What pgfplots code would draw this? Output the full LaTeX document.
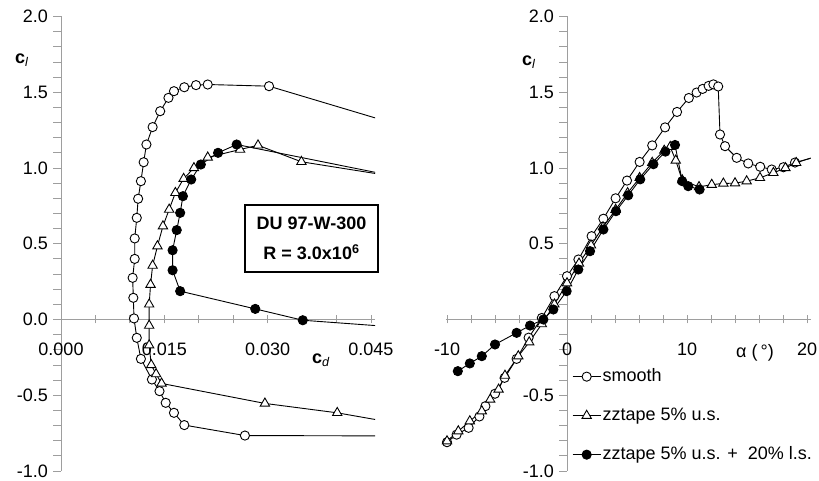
\documentclass[border=0pt]{standalone}
\usepackage{fontspec}
\setmainfont{Liberation Sans}
\usepackage{pgfplots}
\pgfplotsset{compat=1.18}

\definecolor{axgray}{gray}{0.62}

% ---------- drag polar (cd, cl) ----------
\pgfplotstableread{
cd      cl
0.0600 -0.770
0.0267 -0.766
0.0179 -0.697
0.0164 -0.616
0.0152 -0.550
0.0143 -0.473
0.0132 -0.396
0.0116 -0.260
0.0110 -0.121
0.0106  0.007
0.0105  0.143
0.0104  0.275
0.0107  0.400
0.0107  0.535
0.0110  0.671
0.0112  0.797
0.0116  0.913
0.0120  1.038
0.0124  1.155
0.0133  1.270
0.0144  1.375
0.0156  1.463
0.0164  1.507
0.0179  1.533
0.0196  1.547
0.0213  1.551
0.0302  1.540
0.0600  1.135
}\polarsmooth

\pgfplotstableread{
cd      cl
0.0600 -0.775
0.0401 -0.616
0.0296 -0.554
0.0146 -0.422
0.0138 -0.360
0.0131 -0.300
0.0128 -0.170
0.0128 -0.040
0.0128  0.100
0.0130  0.230
0.0133  0.356
0.0140  0.484
0.0148  0.616
0.0157  0.726
0.0166  0.836
0.0178  0.929
0.0193  1.000
0.0213  1.070
0.0260  1.122
0.0286  1.150
0.0349  1.041
0.0600  0.860
}\polarupper

\pgfplotstableread{
cd      cl
0.0600 -0.088
0.0351 -0.005
0.0282  0.070
0.0173  0.187
0.0162  0.325
0.0162  0.457
0.0168  0.590
0.0173  0.704
0.0177  0.814
0.0189  0.924
0.0203  1.023
0.0228  1.100
0.0255  1.155
0.0600  0.840
}\polarboth

% ---------- lift curve (alpha, cl) ----------
\pgfplotstableread{
al     cl
-10.0 -0.810
-9.2  -0.760
-8.2  -0.715
-7.3  -0.640
-6.8  -0.572
-6.0  -0.490
-5.2  -0.385
-4.2  -0.260
-3.2  -0.120
-2.1   0.010
-1.05  0.154
 0.0   0.286
 0.95  0.396
 2.05  0.550
 3.03  0.665
 4.05  0.800
 5.0   0.917
 6.05  1.040
 7.1   1.149
 8.17  1.268
 9.17  1.370
10.15  1.462
10.8   1.498
11.3   1.522
11.8   1.542
12.2   1.552
12.6   1.538
12.75  1.221
13.17  1.144
14.14  1.067
15.1   1.030
16.1   1.008
17.06  0.990
18.03  1.005
19.0   1.036
22.0   1.100
}\liftsmooth

\pgfplotstableread{
al     cl
-10.0 -0.803
-9.06 -0.737
-8.1  -0.671
-7.1  -0.605
-6.4  -0.528
-5.7  -0.462
-5.17 -0.370
-4.06 -0.242
-3.15 -0.150
-2.1  -0.030
-1.05  0.100
 0.0   0.240
 1.0   0.370
 2.0   0.490
 3.0   0.610
 4.05  0.725
 5.05  0.835
 6.05  0.935
 7.1   1.035
 8.1   1.115
 8.6   1.140
 9.06  1.050
 9.6   0.920
11.0   0.875
12.06  0.890
13.03  0.898
14.0   0.900
14.97  0.913
16.08  0.935
17.2   0.968
18.2   1.000
19.1   1.034
22.0   1.110
}\liftupper

\pgfplotstableread{
al     cl
-9.1  -0.341
-8.1  -0.290
-7.1  -0.242
-6.0  -0.165
-4.2  -0.088
-3.08 -0.040
-1.97  0.000
-1.14  0.066
-0.03  0.187
 0.94  0.330
 1.92  0.451
 3.03  0.594
 4.08  0.715
 5.1   0.820
 6.1   0.925
 7.2   1.025
 8.2   1.108
 9.0   1.152
 9.6   0.913
10.1   0.880
11.05  0.858
}\liftboth

\pgfplotsset{
  duaxis/.style={
    scale only axis,
    anchor=south west,
    axis lines=middle,
    axis line style={axgray, line width=0.8bp, -},
    tick style={axgray, line width=0.8bp},
    major tick length=8bp,
    minor tick length=8bp,
    xtick align=center,
    ytick align=outside,
    hide obscured x ticks=false,
    hide obscured y ticks=false,
    scaled x ticks=false,
    scaled y ticks=false,
    clip=true,
    ymin=-1, ymax=2,
    height=454.5bp,
    minor ytick={-0.9,-0.8,-0.7,-0.6,-0.4,-0.3,-0.2,-0.1,0.1,0.2,0.3,0.4,
                 0.6,0.7,0.8,0.9,1.1,1.2,1.3,1.4,1.6,1.7,1.8,1.9},
    tick label style={font=\fontsize{18bp}{21bp}\selectfont, text=black},
    xticklabel style={anchor=north, inner sep=0pt, text height=13bp,
                      text depth=0pt, yshift=-19bp},
    yticklabel style={anchor=east, inner sep=0pt, xshift=-5bp},
    every axis plot/.append style={black, line width=0.9bp,
                                   mark size=4.6bp,
                                   mark options={solid, line width=0.9bp}},
  },
  smoothstyle/.style={mark=*, mark options={fill=white}},
  upperstyle/.style={mark=triangle*, mark size=5.4bp, mark options={fill=white}},
  bothstyle/.style={mark=*, mark options={fill=black}},
}

\begin{document}
\fontsize{18bp}{21bp}\selectfont
\begin{tikzpicture}[x=1bp, y=1bp]
\path[use as bounding box] (0,0) rectangle (819,481);

% drag polar
\begin{axis}[duaxis,
  at={(61bp,10bp)},
  width=314.1bp,
  xmin=0, xmax=0.0456,
  xtick={0,0.015,0.03,0.045},
  xticklabels={0.000,0.015,0.030,0.045},
  minor xtick={0.005,0.01,0.02,0.025,0.035,0.04},
  ytick={-1,-0.5,0,0.5,1,1.5,2},
  yticklabels={-1.0,-0.5,0.0,0.5,1.0,1.5,2.0},
]
\addplot[smoothstyle] table[x=cd, y=cl] {\polarsmooth};
\addplot[upperstyle]  table[x=cd, y=cl] {\polarupper};
\addplot[bothstyle]   table[x=cd, y=cl] {\polarboth};
\end{axis}

% lift curve
\begin{axis}[duaxis,
  at={(445.8bp,10bp)},
  width=364.8bp,
  xmin=-10.1, xmax=20.3,
  xtick={-10,0,10,20},
  xticklabels={-10,0,10,20},
  minor xtick={-8,-6,-4,-2,2,4,6,8,12,14,16,18},
  ytick={-1,-0.5,0.5,1,1.5,2},
  yticklabels={-1.0,-0.5,0.5,1.0,1.5,2.0},
  legend style={at={(rel axis cs:0.346,0.23)}, anchor=north west,
                draw=none, fill=none, inner sep=0pt,
                row sep=19bp,
                font=\fontsize{18bp}{21bp}\selectfont,
                nodes={inner sep=1.5bp, text height=13bp, text depth=4bp}},
  legend cell align=left,
  legend image code/.code={%
    \draw[mark repeat=2, mark phase=2, #1]
      plot coordinates {(0bp,0bp) (14bp,0bp) (28bp,0bp)};},
]
\addplot[smoothstyle] table[x=al, y=cl] {\liftsmooth};
\addlegendentry{smooth}
\addplot[upperstyle]  table[x=al, y=cl] {\liftupper};
\addlegendentry{zztape 5\% u.s.}
\addplot[bothstyle]   table[x=al, y=cl] {\liftboth};
\addlegendentry{zztape 5\% u.s. +\ \ 20\% l.s.}
\end{axis}

% axis titles
\node at (22,421) {\textbf{c}\textsubscript{\textit{l}}};
\node at (529,419) {\textbf{c}\textsubscript{\textit{l}}};
\node at (321,121) {\textbf{c}\textsubscript{\textit{d}}};
\node at (755,128) {α (\,°)};

% airfoil / Reynolds number box
\node[draw=black, line width=1.4bp, minimum width=133bp, minimum height=67bp,
      align=center, inner sep=0pt, font=\bfseries\fontsize{18bp}{30bp}\selectfont]
  at (311.5,242.5) {DU 97-W-300\\R = 3.0x10\textsuperscript{6}};
\end{tikzpicture}
\end{document}
